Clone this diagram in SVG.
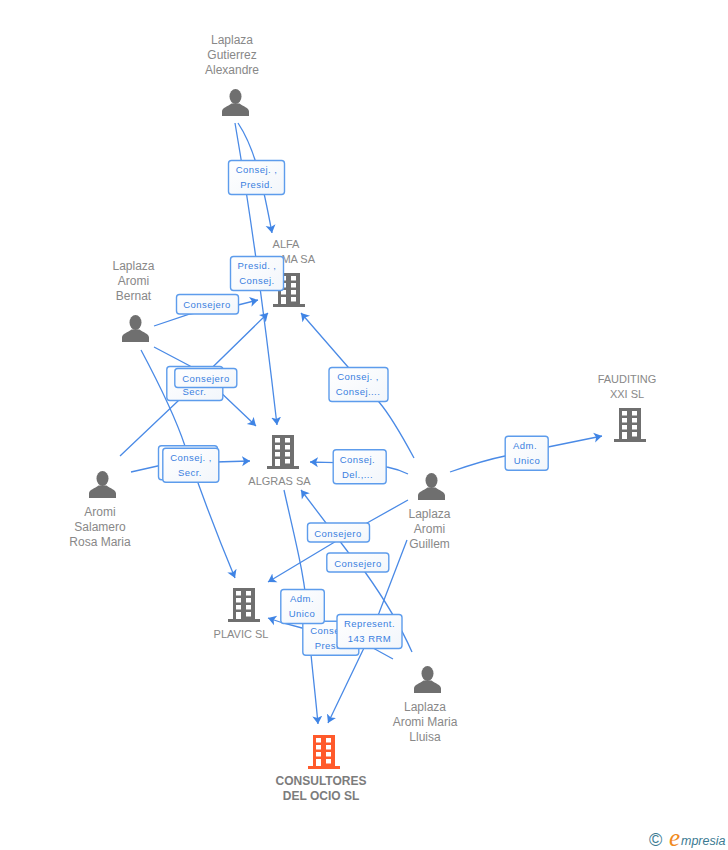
<svg xmlns="http://www.w3.org/2000/svg" width="728" height="850" viewBox="0 0 728 850">
<style>
text{font-family:"Liberation Sans",Arial,sans-serif}
.n{font-size:12px;fill:#888;text-anchor:middle}
.c{font-size:11px;fill:#888;text-anchor:middle}
.m{font-size:12px;font-weight:bold;fill:#7c7c7c;text-anchor:middle}
.l{font-size:9.5px;letter-spacing:.45px;fill:#3a7fe0;text-anchor:middle}
.b{fill:url(#lg);stroke:#5d9cec;stroke-width:1.4}
.e{fill:none;stroke:#4a8ae6;stroke-width:1.3;marker-end:url(#a)}
</style>
<defs>
<linearGradient id="lg" x1="0" y1="0" x2="1" y2="1"><stop offset="0" stop-color="#fff"/><stop offset="1" stop-color="#f2f6fb"/></linearGradient>
<marker id="a" markerUnits="userSpaceOnUse" markerWidth="12" markerHeight="12" refX="8" refY="5.500" orient="auto"><path d="M8,5.500 L0,0.500 L2,5.500 L0,10.500 Z" fill="#3f84e5"/></marker>
<symbol id="bld" width="32" height="34" viewBox="0 0 32 34" overflow="visible"><path fill-rule="evenodd" d="M5 0H27V31H32V34H0V31H5ZM8 3V7.500H13V3ZM18 3V7.500H23V3ZM8 10V14.500H13V10ZM18 10V14.500H23V10ZM8 17V21.500H13V17ZM18 17V21.500H23V17ZM8 24V31H13V24ZM18 24V28.500H23V24Z"/></symbol>
<symbol id="per" width="27" height="27" viewBox="0 0 27 27"><ellipse cx="13.500" cy="7.500" rx="6" ry="7.500"/><path d="M0 27V22.500C0 18.500 6 17.500 9.500 14.500H17.500C21 17.500 27 18.500 27 22.500V27Z"/></symbol>
</defs>
<rect width="728" height="850" fill="#fff"/>
<g id="connectors">
<path class="e" d="M238 123C256 150 264 190 272 233"/>
<path class="e" d="M235 123C250 210 265 320 277 425"/>
<path class="e" d="M154 326L190 314L238 305L258 300"/>
<path class="e" d="M154 347L190 366L216 388L256 426"/>
<path class="e" d="M120 456L178 401L268 313"/>
<path class="e" d="M131 472L162 465L215 462L250 461"/>
<path class="e" d="M141 350C165 395 178 425 185 446C200 490 215 530 235 578"/>
<path class="e" d="M414 458C400 432 390 415 379 402L348 367L301 313"/>
<path class="e" d="M408 474C400 470 392 468 387 467C370 463 345 463 310 462"/>
<path class="e" d="M450 472C470 465 490 459 505 456L548 447L602 436"/>
<path class="e" d="M408 500L367 523L333 543L268 582"/>
<path class="e" d="M412 652C400 625 385 600 365 572L348 552L301 490"/>
<path class="e" d="M393 659L373 648C350 640 325 632 302 628L283 623L268 618"/>
<path class="e" d="M407 540L379 613L363 650L328 723"/>
<path class="e" d="M284 490C295 540 305 575 308 620C311 660 315 690 318 724"/>
</g>
<g id="node-gutierrez"><text class="n" x="232" y="44">Laplaza</text><text class="n" x="232" y="59">Gutierrez</text><text class="n" x="232" y="74">Alexandre</text><use href="#per" x="222" y="89" fill="#6f6f6f"/></g>
<g id="node-bernat"><text class="n" x="133.500" y="270">Laplaza</text><text class="n" x="133.500" y="285">Aromi</text><text class="n" x="133.500" y="300">Bernat</text><use href="#per" x="122" y="315" fill="#6f6f6f"/></g>
<g id="node-rosa"><use href="#per" x="89" y="471" fill="#6f6f6f"/><text class="n" x="100" y="516">Aromi</text><text class="n" x="100" y="531">Salamero</text><text class="n" x="100" y="546">Rosa Maria</text></g>
<g id="node-guillem"><use href="#per" x="418" y="473" fill="#6f6f6f"/><text class="n" x="429.500" y="518">Laplaza</text><text class="n" x="429.500" y="533">Aromi</text><text class="n" x="429.500" y="548">Guillem</text></g>
<g id="node-lluisa"><use href="#per" x="414" y="666" fill="#6f6f6f"/><text class="n" x="425" y="711">Laplaza</text><text class="n" x="425" y="726">Aromi Maria</text><text class="n" x="425" y="741">Lluisa</text></g>
<g id="node-alfa"><text class="c" x="286" y="248">ALFA</text><text class="c" x="315" y="263" style="text-anchor:end">MA SA</text><use href="#bld" x="273" y="273" fill="#6f6f6f"/></g>
<g id="node-algras"><use href="#bld" x="267" y="435" fill="#6f6f6f"/><text class="c" x="279.500" y="485">ALGRAS SA</text></g>
<g id="node-fauditing"><text class="c" x="627" y="383">FAUDITING</text><text class="c" x="627" y="398">XXI SL</text><use href="#bld" x="614" y="408" fill="#6f6f6f"/></g>
<g id="node-plavic"><use href="#bld" x="228" y="588" fill="#6f6f6f"/><text class="c" x="241" y="638">PLAVIC SL</text></g>
<g id="node-consultores"><use href="#bld" x="308" y="735" fill="#ff5a2b"/><text class="m" x="321" y="785">CONSULTORES</text><text class="m" x="321" y="800">DEL OCIO SL</text></g>
<g id="labels">
<rect class="b" x="228.500" y="160.500" width="56" height="34" rx="3"/><text class="l" x="256.500" y="173">Consej. ,</text><text class="l" x="256.500" y="188">Presid.</text>
<rect class="b" x="230.500" y="256.500" width="53" height="34" rx="3"/><text class="l" x="257" y="269">Presid. ,</text><text class="l" x="257" y="284">Consej.</text>
<rect class="b" x="176.500" y="294.500" width="62" height="19.500" rx="3"/><text class="l" x="207" y="308">Consejero</text>
<rect class="b" x="166.800" y="366.500" width="56" height="34" rx="3"/><text class="l" x="194.500" y="395">Secr.</text>
<rect class="b" x="174.800" y="368.500" width="62" height="19" rx="3"/><text class="l" x="206" y="381.500">Consejero</text>
<rect class="b" x="158.500" y="445.800" width="59" height="34" rx="3"/>
<rect class="b" x="162.800" y="448.200" width="56" height="34" rx="3"/><text class="l" x="191" y="461">Consej. ,</text><text class="l" x="190" y="476">Secr.</text>
<rect class="b" x="329" y="367.500" width="59" height="34" rx="3"/><text class="l" x="358" y="380">Consej. ,</text><text class="l" x="358" y="395">Consej....</text>
<rect class="b" x="333.200" y="449.800" width="53" height="34" rx="3"/><text class="l" x="357.500" y="463">Consej.</text><text class="l" x="357.500" y="478">Del.,...</text>
<rect class="b" x="505.200" y="436.200" width="43" height="34" rx="3"/><text class="l" x="525" y="449">Adm.</text><text class="l" x="527" y="464">Unico</text>
<rect class="b" x="307.500" y="523" width="62" height="19" rx="3"/><text class="l" x="338" y="536.500">Consejero</text>
<rect class="b" x="326.800" y="553" width="62" height="19" rx="3"/><text class="l" x="358" y="566.500">Consejero</text>
<rect class="b" x="302.800" y="621.200" width="56" height="34" rx="3"/><text class="l" x="331" y="634">Consej. ,</text><text class="l" x="331" y="649">Presid.</text>
<rect class="b" x="280.800" y="589.500" width="43.500" height="34" rx="3"/><text class="l" x="302" y="602">Adm.</text><text class="l" x="302" y="617">Unico</text>
<rect class="b" x="337" y="614.500" width="65" height="34" rx="3"/><text class="l" x="369.500" y="627">Represent.</text><text class="l" x="369.500" y="642">143 RRM</text>
</g>
<g id="logo">
<text x="649" y="846" font-size="18" fill="#3b7a92">©</text>
<text x="669" y="846" font-size="25" font-style="italic" fill="#f08a1d" style="font-family:'Liberation Serif',serif">e</text>
<text x="681" y="845" font-size="12.500" font-style="italic" fill="#3b7a92">mpresia</text>
</g>
</svg>
